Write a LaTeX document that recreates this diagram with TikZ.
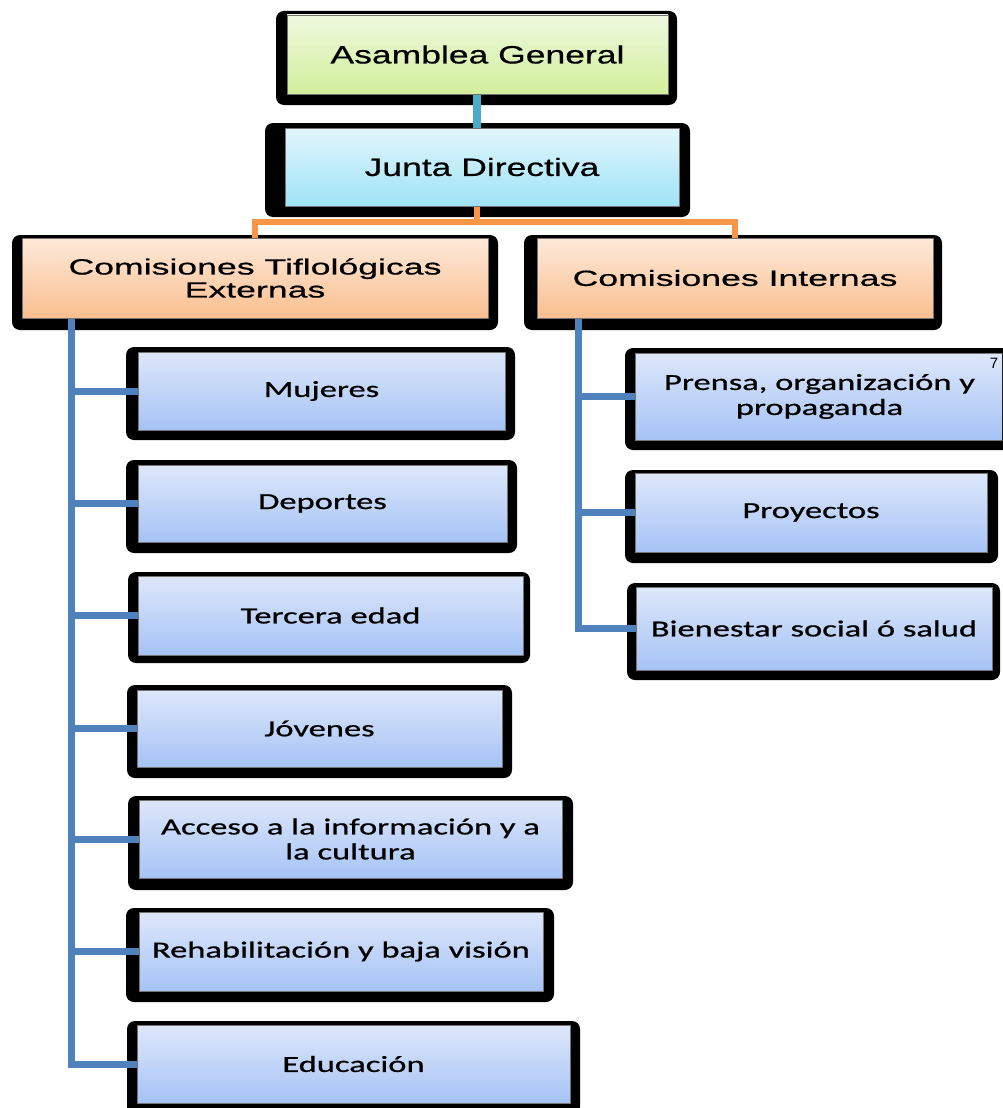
\documentclass[tikz,border=0pt]{standalone}
\usepackage{fontspec}
\newfontfamily\headfont[FakeStretch=1.42,FakeBold=0.6]{Liberation Sans}
\newfontfamily\commfont[FakeStretch=1.62,FakeBold=0.6]{Liberation Sans}
\newfontfamily\itemfont[FakeStretch=1.5,FakeBold=0.8]{Carlito}
\newfontfamily\notefont{Liberation Sans}
\definecolor{lineteal}{HTML}{4BACC6}
\definecolor{lineorange}{HTML}{F79646}
\definecolor{lineblue}{HTML}{4F81BD}
\pgfdeclarelayer{frames}
\pgfdeclarelayer{links}
\pgfsetlayers{frames,links,main}
\tikzset{
  frame/.style={fill=black, rounded corners=8pt},
  card/.style={draw=black!55, line width=0.8pt, inner sep=0pt, align=center, text=black},
  greencard/.style={card, top color={rgb,255:red,238;green,248;blue,222}, bottom color={rgb,255:red,210;green,239;blue,156},
    font=\headfont\fontsize{25}{28}\selectfont},
  cyancard/.style={card, top color={rgb,255:red,226;green,246;blue,252}, bottom color={rgb,255:red,159;green,227;blue,246},
    font=\headfont\fontsize{25}{28}\selectfont},
  orangecard/.style={card, top color={rgb,255:red,253;green,233;blue,218}, bottom color={rgb,255:red,250;green,191;blue,143},
    font=\commfont\fontsize{22}{23}\selectfont},
  bluecard/.style={card, top color={rgb,255:red,221;green,231;blue,250}, bottom color={rgb,255:red,166;green,195;blue,246},
    font=\itemfont\fontsize{23}{25}\selectfont},
  tealline/.style={draw=lineteal, line width=8pt},
  orangeline/.style={draw=lineorange, line width=6.5pt},
  blueline/.style={draw=lineblue, line width=7pt},
}
% a card: black rounded frame behind a shaded panel spanning (#4,#5)--(#6,#7)
\newcommand\orgcard[8]{%
  \begin{pgfonlayer}{frames}\fill[frame] #3;\end{pgfonlayer}
  \node[#2, minimum width={#6-#4}, minimum height={#7-#5}] (#1)
    at ({(#4+#6)/2},{(#5+#7)/2}) {#8};}
\begin{document}
\begin{tikzpicture}[x=1pt, y=-1pt]
\useasboundingbox (0,0) rectangle (1002,1108);
\clip (0,0) rectangle (1002,1108);

% top of the chart
\orgcard{ag}{greencard}{(276,11) rectangle (677,105)}{287}{15}{668}{94}{Asamblea General}
\orgcard{jd}{cyancard}{(265,123) rectangle (690,217)}{285}{128}{679}{206}{Junta Directiva}
\orgcard{cte}{orangecard}{(12,235) rectangle (498,330)}{22}{238}{488}{318}{Comisiones Tiflológicas\\Externas}
\orgcard{ci}{orangecard}{(524,235) rectangle (942,330)}{537}{238}{933}{318}{Comisiones Internas}

% external commissions
\orgcard{muj}{bluecard}{(126,347) rectangle (515,440)}{138}{352}{505}{430}{Mujeres}
\orgcard{dep}{bluecard}{(126,460) rectangle (517,553)}{138}{465}{507}{542}{Deportes}
\orgcard{ter}{bluecard}{(128,572) rectangle (530,663)}{138}{576}{523}{655}{Tercera edad}
\orgcard{jov}{bluecard}{(127,685) rectangle (512,778)}{137}{690}{502}{767}{Jóvenes}
\orgcard{acc}{bluecard}{(128,796) rectangle (573,890)}{139}{800}{562}{878}{Acceso a la información y a\\la cultura}
\orgcard{reh}{bluecard}{(126,908) rectangle (554,1002)}{139}{912}{543}{991}{Rehabilitación y baja visión}
\orgcard{edu}{bluecard}{(127,1021) rectangle (580,1115)}{137}{1025}{570}{1103}{Educación}

% internal commissions
\orgcard{pre}{bluecard}{(625,348) rectangle (1012,450)}{635}{353}{1004}{440}{Prensa, organización y\\propaganda}
\orgcard{pro}{bluecard}{(625,470) rectangle (998,563)}{635}{473}{987}{552}{Proyectos}
\orgcard{bie}{bluecard}{(627,583) rectangle (1000,680)}{636}{587}{992}{670}{Bienestar social ó salud}

\node[font=\notefont\fontsize{15}{15}\selectfont, inner sep=0pt] (fn) at (994,363) {7};

% connectors
\coordinate (bus) at (477,222);
\coordinate (lspine) at (71,0);
\coordinate (rspine) at (578,0);
\begin{pgfonlayer}{links}
\draw[tealline] (ag.south -| bus) -- (jd.north -| bus);
\draw[orangeline] (jd.south -| bus) -- (bus);
\draw[orangeline] (cte.north) |- (bus) -| (ci.north);
\draw[blueline] (cte.south -| lspine) |- (edu.west);
\foreach \n in {muj,dep,ter,jov,acc,reh}
  \draw[blueline] (\n.west -| lspine) -- (\n.west);
\draw[blueline] (ci.south -| rspine) |- (bie.west);
\foreach \n in {pre,pro}
  \draw[blueline] (\n.west -| rspine) -- (\n.west);
\end{pgfonlayer}
\end{tikzpicture}
\end{document}
